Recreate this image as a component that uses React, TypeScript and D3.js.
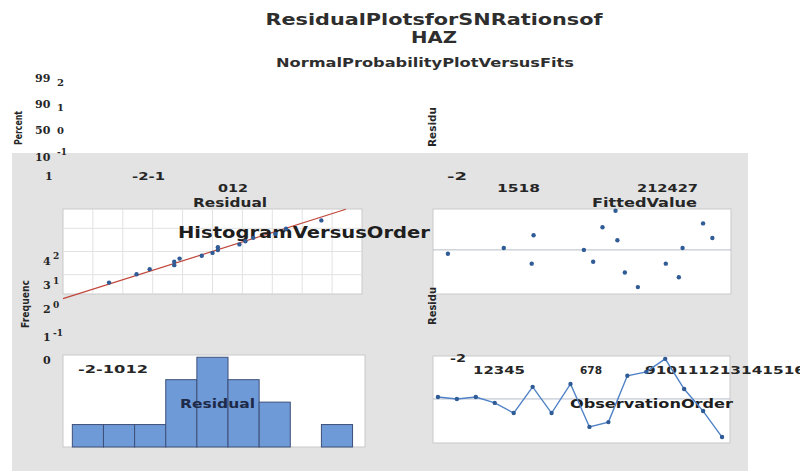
import React from 'react';
import * as d3 from 'd3';

// ---------- data ----------
const residuals = [0.09, 0, 0.09, -0.18, -0.64, 0.55, -0.64, 0.68, -1.27, -1.05, 1.05, 1.23, 1.82, 0.45, -0.55, -1.73];
const fittedValues = [16.8, 21.1, 26.4, 13.8, 18.3, 28.0, 25.5, 18.4, 26.2, 23.3, 22.1, 27.5, 22.8, 22.9, 21.6, 24.0];
const histBinCenters = [-2, -1.5, -1, -0.5, 0, 0.5, 1, 1.5, 2];
const histCounts = [1, 1, 1, 3, 4, 3, 2, 0, 1];
const histBinWidth = 0.5;
const probGridPercents = [10, 50, 90];
const residualGrid = [-2, -1.5, -1, -0.5, 0, 0.5, 1, 1.5, 2];

const titleLines = ['ResidualPlotsforSNRationsof', 'HAZ'];
const subtitle = 'NormalProbabilityPlotVersusFits';
const percentTicks = ['99', '90', '50', '10', '1'];
const percentSubs = ['2', '1', '0', '-1'];
const freqTicks = ['4', '3', '2', '1', '0'];
const freqSubs = ['2', '1', '0', '-1'];
const npXTicks = ['-2-1', '012'];
const fvXTicks = ['-2', '1518', '212427'];
const histXTicks = '-2-1012';
const orderXTicks = ['-2', '12345', '678', '910111213141516'];

// inverse standard normal CDF (Acklam)
function invNorm(p: number): number {
  const a = [-39.69683028665376, 220.9460984245205, -275.9285104469687, 138.357751867269, -30.66479806614716, 2.506628277459239];
  const b = [-54.47609879822406, 161.5858368580409, -155.6989798598866, 66.80131188771972, -13.28068155288572];
  const c = [-0.007784894002430293, -0.3223964580411365, -2.400758277161838, -2.549732539343734, 4.374664141464968, 2.938163982698783];
  const d = [0.007784695709041462, 0.3224671290700398, 2.445134137142996, 3.754408661907416];
  const pl = 0.02425;
  let q, r;
  if (p < pl) {
    q = Math.sqrt(-2 * Math.log(p));
    return (((((c[0] * q + c[1]) * q + c[2]) * q + c[3]) * q + c[4]) * q + c[5]) / ((((d[0] * q + d[1]) * q + d[2]) * q + d[3]) * q + 1);
  } else if (p <= 1 - pl) {
    q = p - 0.5; r = q * q;
    return (((((a[0] * r + a[1]) * r + a[2]) * r + a[3]) * r + a[4]) * r + a[5]) * q / (((((b[0] * r + b[1]) * r + b[2]) * r + b[3]) * r + b[4]) * r + 1);
  }
  q = Math.sqrt(-2 * Math.log(1 - p));
  return -(((((c[0] * q + c[1]) * q + c[2]) * q + c[3]) * q + c[4]) * q + c[5]) / ((((d[0] * q + d[1]) * q + d[2]) * q + d[3]) * q + 1);
}

// ---------- layout ----------
const W = 800, H = 476;
const NP = { x0: 63, x1: 362, y0: 209, y1: 294 };
const FV = { x0: 433, x1: 731, y0: 209, y1: 294 };
const HI = { x0: 63, x1: 365, y0: 355, y1: 447 };
const OR = { x0: 433, x1: 730, y0: 356, y1: 443 };

const SANS = 'DejaVu Sans, Verdana, sans-serif';
const SERIF = 'DejaVu Serif, serif';
const TXT = '#262626';
const MARK = '#2f5b96';
const BOX = '#c9c9c9';

export default function App() {
  const n = residuals.length;
  const sorted = [...residuals].sort((a, b) => a - b);
  const mean = d3.mean(residuals) as number;
  const sd = d3.deviation(residuals) as number;

  // normal probability plot
  const xNP = d3.scaleLinear().domain([-2.5, 2.5]).range([NP.x0, NP.x1]);
  const yNP = d3.scaleLinear().domain([-2.35, 2.35]).range([NP.y1, NP.y0]);
  const npPts = sorted.map((r, i) => ({ r, z: invNorm((i + 1 - 0.3) / (n + 0.4)) }));
  const fitLine = d3.line<number>().x((r) => xNP(r)).y((r) => yNP((r - mean) / sd));

  // versus fits
  const xFV = d3.scaleLinear().domain([13, 29]).range([FV.x0, FV.x1]);
  const yFV = d3.scaleLinear().domain([-2.05, 1.9]).range([FV.y1, FV.y0]);

  // histogram
  const xHI = d3.scaleLinear().domain([-2.4, 2.45]).range([HI.x0, HI.x1]);
  const yHI = d3.scaleLinear().domain([0, 4.1]).range([HI.y1, HI.y0]);

  // versus order
  const xOR = d3.scaleLinear().domain([0.74, 16.42]).range([OR.x0, OR.x1]);
  const yOR = d3.scaleLinear().domain([-2, 1.95]).range([OR.y1, OR.y0]);
  const orderLine = d3.line<number>().x((_, i) => xOR(i + 1)).y((r) => yOR(r));

  const box = (b: any) => (
    <rect x={b.x0} y={b.y0} width={b.x1 - b.x0} height={b.y1 - b.y0} fill="#fff" stroke={BOX} strokeWidth={1} />
  );

  const T = (p: any) => {
    const { children, ...rest } = p;
    return (
      <text fontFamily={SANS} fontWeight="bold" fill={TXT} lengthAdjust="spacingAndGlyphs" {...rest}>
        {children}
      </text>
    );
  };

  return (
    <svg width={W} height={H} style={{ position: 'absolute', left: 0, top: 0, background: '#fff' }}>
      <rect x={0} y={0} width={W} height={H} fill="#fff" />
      {/* gray panel */}
      <rect x={12} y={153} width={736} height={318} fill="#e3e3e3" />

      {/* titles */}
      <T x={434} y={25} fontSize={16} textAnchor="middle" textLength={337} fill="#2e2e2e">{titleLines[0]}</T>
      <T x={434} y={43} fontSize={16} textAnchor="middle" textLength={46} fill="#2e2e2e">{titleLines[1]}</T>
      <T x={425} y={67} fontSize={12} textAnchor="middle" textLength={298} fill="#2e2e2e">{subtitle}</T>

      {/* left tick label column (probability) */}
      {percentTicks.map((t, i) => (
        <text key={'pt' + i} x={t.length === 1 ? 45 : 35} y={[82, 108, 134, 161, 180][i]} fontFamily={SERIF} fontWeight="bold" fontSize={11} fill={TXT}>{t}</text>
      ))}
      {percentSubs.map((t, i) => (
        <text key={'ps' + i} x={57} y={[86, 111, 134, 155][i]} fontFamily={SERIF} fontWeight="bold" fontSize={i === 3 ? 9 : 10} fill={TXT}>{t}</text>
      ))}
      {/* left tick label column (frequency) */}
      {freqTicks.map((t, i) => (
        <text key={'ft' + i} x={43} y={[265, 289, 313, 341, 364][i]} fontFamily={SERIF} fontWeight="bold" fontSize={11} fill={TXT}>{t}</text>
      ))}
      {freqSubs.map((t, i) => (
        <text key={'fs' + i} x={53} y={[259, 284, 308, 336][i]} fontFamily={SERIF} fontWeight="bold" fontSize={9} fill={TXT}>{t}</text>
      ))}

      {/* top tick labels */}
      <T x={132} y={180} fontSize={10} textLength={33}>{npXTicks[0]}</T>
      <T x={218} y={192} fontSize={10} textLength={30}>{npXTicks[1]}</T>
      <T x={193} y={207} fontSize={12} textLength={74}>Residual</T>
      <T x={447} y={180} fontSize={10} textLength={20}>{fvXTicks[0]}</T>
      <T x={497} y={192} fontSize={10} textLength={43}>{fvXTicks[1]}</T>
      <T x={637} y={192} fontSize={10} textLength={61}>{fvXTicks[2]}</T>
      <T x={592} y={207} fontSize={12} textLength={105}>FittedValue</T>

      {/* ---- normal probability plot ---- */}
      {box(NP)}
      {residualGrid.map((g) => (
        <line key={'vg' + g} x1={xNP(g)} x2={xNP(g)} y1={NP.y0} y2={NP.y1} stroke="#e2e2e2" strokeWidth={1} />
      ))}
      {probGridPercents.map((p) => (
        <line key={'hg' + p} x1={NP.x0} x2={NP.x1} y1={yNP(invNorm(p / 100))} y2={yNP(invNorm(p / 100))} stroke="#e2e2e2" strokeWidth={1} />
      ))}
      <path d={fitLine([-2.5, 2.23]) as string} stroke="#c0473a" strokeWidth={1.2} fill="none" />

      {/* ---- versus fits ---- */}
      {box(FV)}
      <line x1={FV.x0} x2={FV.x1} y1={yFV(0)} y2={yFV(0)} stroke="#b4bccb" strokeWidth={1} />

      {/* big overlay heading */}
      <T x={178} y={238} fontSize={16} textLength={252} fill="#1e1e1e">HistogramVersusOrder</T>

      {npPts.map((p, i) => (
        <circle key={'np' + i} cx={xNP(p.r)} cy={yNP(p.z)} r={2.2} fill={MARK} />
      ))}
      {residuals.map((r, i) => (
        <circle key={'fv' + i} cx={xFV(fittedValues[i])} cy={yFV(r)} r={2.2} fill={MARK} />
      ))}

      {/* ---- histogram ---- */}
      {box(HI)}
      <T x={78} y={373} fontSize={10} textLength={70}>{histXTicks}</T>
      {histCounts.map((c, i) =>
        c > 0 ? (
          <rect
            key={'hb' + i}
            x={xHI(histBinCenters[i] - histBinWidth / 2)}
            y={yHI(c)}
            width={xHI(histBinCenters[i] + histBinWidth / 2) - xHI(histBinCenters[i] - histBinWidth / 2)}
            height={yHI(0) - yHI(c)}
            fill="#6f9ad8"
            stroke="#3d4f78"
            strokeWidth={1}
          />
        ) : null
      )}
      <T x={180} y={408} fontSize={12} textLength={75} fill="#1d2a48">Residual</T>

      {/* ---- versus order ---- */}
      {box(OR)}
      <line x1={OR.x0} x2={OR.x1} y1={yOR(0)} y2={yOR(0)} stroke="#b4bccb" strokeWidth={1} />
      <T x={450} y={362} fontSize={10} textLength={16}>{orderXTicks[0]}</T>
      <T x={473} y={374} fontSize={10} textLength={52}>{orderXTicks[1]}</T>
      <T x={580} y={374} fontSize={10} textLength={22}>{orderXTicks[2]}</T>
      <T x={645} y={374} fontSize={10} textLength={160}>{orderXTicks[3]}</T>
      <T x={570} y={408} fontSize={12} textLength={163} fill="#1e1e1e">ObservationOrder</T>
      <path d={orderLine(residuals) as string} stroke="#4f82c6" strokeWidth={1.4} fill="none" />
      {residuals.map((r, i) => (
        <circle key={'or' + i} cx={xOR(i + 1)} cy={yOR(r)} r={2.2} fill={MARK} />
      ))}

      {/* rotated axis titles (drawn last, they overlap box edges) */}
      <T transform="translate(22,128) rotate(-90)" fontSize={10} textAnchor="middle" textLength={34}>Percent</T>
      <T transform="translate(436,127) rotate(-90)" fontSize={10} textAnchor="middle" textLength={40}>Residu</T>
      <T transform="translate(29,304) rotate(-90)" fontSize={10} textAnchor="middle" textLength={48}>Frequenc</T>
      <T transform="translate(436,306) rotate(-90)" fontSize={10} textAnchor="middle" textLength={38}>Residu</T>
    </svg>
  );
}
